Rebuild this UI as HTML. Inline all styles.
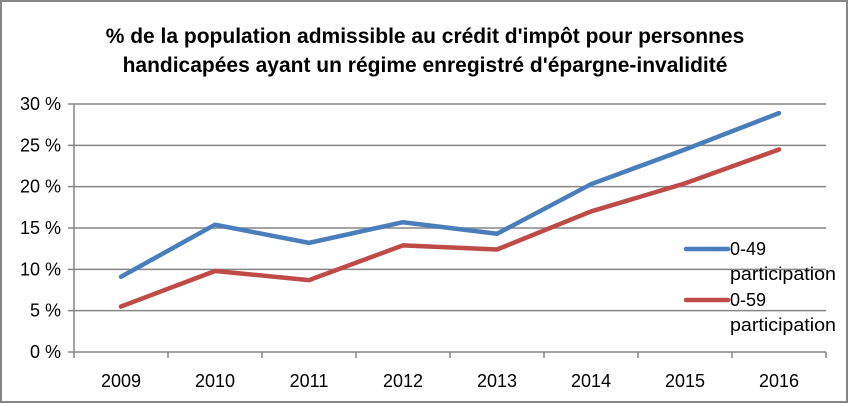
<!DOCTYPE html>
<html><head><meta charset="utf-8">
<style>
html,body{margin:0;padding:0;background:#fff;}
svg{display:block;font-family:"Liberation Sans",Arial,sans-serif;}
</style></head>
<body>
<svg width="850" height="405" viewBox="0 0 850 405">
<rect x="1" y="1" width="846" height="401" fill="#fff" stroke="#868686" stroke-width="2"/>
<text x="425" y="43" text-anchor="middle" font-size="21" font-weight="bold" fill="#000">% de la population admissible au crédit d'impôt pour personnes</text>
<text x="425" y="72" text-anchor="middle" font-size="21" font-weight="bold" fill="#000">handicapées ayant un régime enregistré d'épargne-invalidité</text>
<g id="grid"></g>
<g id="axes"></g>
<g id="series"></g>
<g id="legend"></g>
</svg>
<script>
const categories = ["2009","2010","2011","2012","2013","2014","2015","2016"];
const series1 = [9.1, 15.4, 13.2, 15.7, 14.3, 20.3, 24.5, 28.9];
const series2 = [5.5, 9.8, 8.7, 12.9, 12.4, 17.0, 20.4, 24.5];
const yTicks = [0,5,10,15,20,25,30];
const yTickLabels = ["0 %","5 %","10 %","15 %","20 %","25 %","30 %"];
const seriesNames = ["0-49 participation","0-59 participation"];

const NS="http://www.w3.org/2000/svg";
const X0=74, X1=826, Y0=352, Y1=104, YMAX=30;
const bw=(X1-X0)/categories.length;
const xPos=i=>X0+bw*(i+0.5);
const yPos=v=>Y0-(v/YMAX)*(Y0-Y1);
function mk(tag,attrs,parent,text){const e=document.createElementNS(NS,tag);for(const k in attrs)e.setAttribute(k,attrs[k]);if(text!==undefined)e.textContent=text;parent.appendChild(e);return e;}
const grid=document.getElementById('grid'), axes=document.getElementById('axes'), ser=document.getElementById('series'), leg=document.getElementById('legend');

yTicks.forEach((t,i)=>{
  const y=yPos(t);
  const l=mk('line',{x1:X0-6,x2:X1,y1:y,y2:y,stroke:'#868686','stroke-width':1.5},grid);
  
  
  const tx=mk('text',{x:X0-13,y:y+6,'text-anchor':'end','font-size':18,fill:'#000'},axes,yTickLabels[i]);
  
  
});
const ya=mk('line',{x1:X0,x2:X0,y1:Y1,y2:Y0,stroke:'#868686','stroke-width':1.5},axes);


for(let i=0;i<=categories.length;i++){
  const x=X0+bw*i;
  const t=mk('line',{x1:x,x2:x,y1:Y0,y2:Y0+6,stroke:'#868686','stroke-width':1.5},axes);
  
  
}
categories.forEach((c,i)=>{
  const t=mk('text',{x:xPos(i),y:387,'text-anchor':'middle','font-size':18,fill:'#000'},axes,c);
  
  
});
function drawLine(vals,color,name){
  const pts=vals.map((v,i)=>xPos(i)+','+yPos(v)).join(' ');
  const p=mk('polyline',{points:pts,fill:'none',stroke:color,'stroke-width':4.5,'stroke-linecap':'round','stroke-linejoin':'round'},ser);
  
  
}
drawLine(series1,'#4a7ebb','line-0-49');
drawLine(series2,'#be4b48','line-0-59');

[[249,'#4a7ebb','0-49'],[300,'#be4b48','0-59']].forEach((d,i)=>{
  const l=mk('line',{x1:686,x2:728,y1:d[0],y2:d[0],stroke:d[1],'stroke-width':4.5,'stroke-linecap':'round'},leg);
  
  
  const t1=mk('text',{x:730,y:d[0]+6,'font-size':18,fill:'#000'},leg,d[2]);
  
  
  const t2=mk('text',{x:730,y:d[0]+31,'font-size':18,fill:'#000',textLength:106,lengthAdjust:'spacingAndGlyphs'},leg,'participation');
  
  
});
</script>
</body></html>
